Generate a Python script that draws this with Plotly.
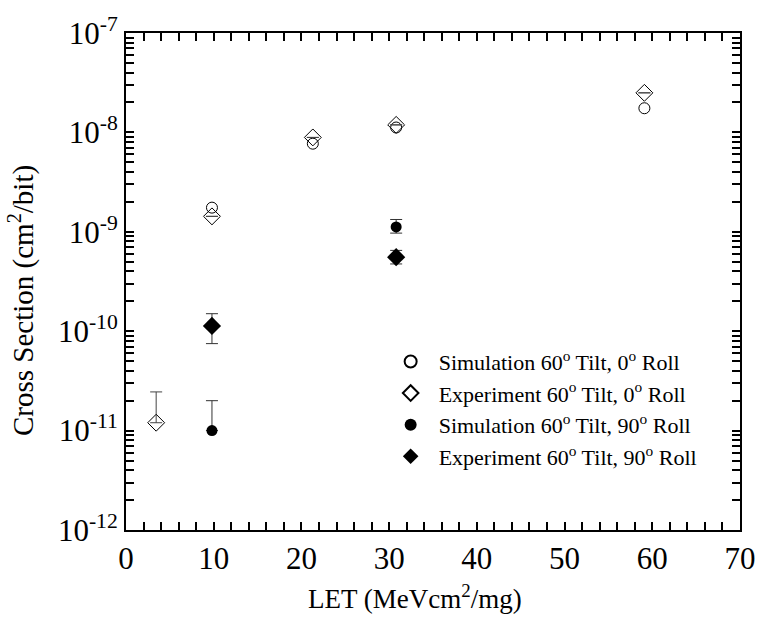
import plotly.graph_objects as go

# Data
sim0_x = [9.8, 21.3, 30.8, 59.1]
sim0_y = [1.75e-9, 7.7e-9, 1.12e-8, 1.75e-8]

exp0_x = [3.44, 9.8, 21.3, 30.8, 59.1]
exp0_y = [1.2e-11, 1.43e-9, 8.9e-9, 1.19e-8, 2.5e-8]
exp0_err_plus = [1.25e-11, 0, 0, 0, 0]
exp0_err_minus = [0, 0, 0, 0, 0]

sim90_x = [9.8, 30.8]
sim90_y = [1.0e-11, 1.12e-9]
sim90_err_plus = [1.0e-11, 0.21e-9]
sim90_err_minus = [0, 0.15e-9]

exp90_x = [9.8, 30.8]
exp90_y = [1.13e-10, 5.56e-10]
exp90_err_plus = [0.37e-10, 0.94e-10]
exp90_err_minus = [0.38e-10, 0.81e-10]

x_major = [0, 10, 20, 30, 40, 50, 60, 70]
x_minor = [v for v in range(0, 71, 2) if v % 10 != 0]
y_major = [1e-12, 1e-11, 1e-10, 1e-9, 1e-8, 1e-7]
y_major_text = ["10<sup>-12</sup>", "10<sup>-11</sup>", "10<sup>-10</sup>",
                "10<sup>-9</sup>", "10<sup>-8</sup>", "10<sup>-7</sup>"]
y_minor = [m * 10.0 ** e for e in range(-12, -7) for m in range(2, 10)]

# combined tick sets (minor ticks carry empty labels)
x_tickvals = x_major + x_minor
x_ticktext = [str(v) for v in x_major] + [""] * len(x_minor)
y_tickvals = y_major + y_minor
y_ticktext = y_major_text + [""] * len(y_minor)

FONT = "Liberation Serif"

fig = go.Figure()

fig.add_trace(go.Scatter(
    x=sim0_x, y=sim0_y, mode="markers",
    name="Simulation 60<sup>o</sup> Tilt, 0<sup>o</sup> Roll",
    marker=dict(symbol="circle-open", size=11, color="black", line=dict(width=1)),
))
fig.add_trace(go.Scatter(
    x=exp0_x, y=exp0_y, mode="markers",
    name="Experiment 60<sup>o</sup> Tilt, 0<sup>o</sup> Roll",
    marker=dict(symbol="diamond-open", size=13, color="black", line=dict(width=1)),
    error_y=dict(type="data", symmetric=False, array=exp0_err_plus,
                 arrayminus=exp0_err_minus, color="#444", thickness=1, width=6),
))
fig.add_trace(go.Scatter(
    x=sim90_x, y=sim90_y, mode="markers",
    name="Simulation 60<sup>o</sup> Tilt, 90<sup>o</sup> Roll",
    marker=dict(symbol="circle", size=11, color="black"),
    error_y=dict(type="data", symmetric=False, array=sim90_err_plus,
                 arrayminus=sim90_err_minus, color="#333", thickness=1, width=6),
))
fig.add_trace(go.Scatter(
    x=exp90_x, y=exp90_y, mode="markers",
    name="Experiment 60<sup>o</sup> Tilt, 90<sup>o</sup> Roll",
    marker=dict(symbol="diamond", size=14, color="black"),
    error_y=dict(type="data", symmetric=False, array=exp90_err_plus,
                 arrayminus=exp90_err_minus, color="#333", thickness=1, width=6),
))

fig.update_layout(
    width=768, height=626,
    margin=dict(l=126, r=18, t=26, b=96),
    paper_bgcolor="white", plot_bgcolor="white",
    font=dict(family=FONT, color="black", size=24),
    showlegend=True,
    legend=dict(
        x=0.418, y=0.381, xanchor="left", yanchor="top",
        bgcolor="rgba(0,0,0,0)", font=dict(family=FONT, size=22, color="black"),
        tracegroupgap=0, itemsizing="constant", itemwidth=46,
    ),
    xaxis=dict(
        range=[0, 70], tickmode="array", tickvals=x_tickvals, ticktext=x_ticktext,
        ticks="inside", ticklen=8, tickwidth=2, tickcolor="black",
        showline=True, linewidth=2, linecolor="black", mirror="allticks",
        showgrid=False, zeroline=False,
        tickfont=dict(family=FONT, size=31),
    ),
    yaxis=dict(
        type="log", range=[-12, -7], tickmode="array", tickvals=y_tickvals, ticktext=y_ticktext,
        ticks="inside", ticklen=8, tickwidth=2, tickcolor="black",
        showline=True, linewidth=2, linecolor="black", mirror="allticks",
        showgrid=False, zeroline=False,
        tickfont=dict(family=FONT, size=31),
    ),
    annotations=[
        dict(text="LET (MeVcm<sup>2</sup>/mg)", xref="paper", yref="paper",
             x=0.47, y=-0.135, xanchor="center", yanchor="middle", showarrow=False,
             font=dict(family=FONT, size=27, color="black")),
        dict(text="Cross Section (cm<sup>2</sup>/bit)", xref="paper", yref="paper",
             x=-0.17, y=0.462, xanchor="center", yanchor="middle", showarrow=False,
             textangle=-90, font=dict(family=FONT, size=29, color="black")),
    ],
)

fig.write_html("out.html")
